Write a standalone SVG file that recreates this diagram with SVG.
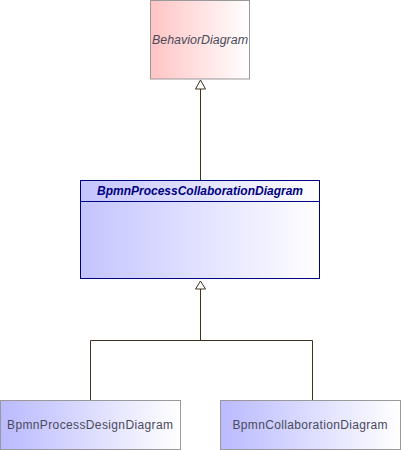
<svg xmlns="http://www.w3.org/2000/svg" width="401" height="450" viewBox="0 0 401 450">
<style>
.box{stroke:#999999;stroke-width:1}
.lbl{font-family:"Liberation Sans",Arial,sans-serif;font-size:12px;fill:#4a4a5a;text-anchor:middle}
.conn{stroke:#3f3221;stroke-width:1;fill:none}
.head{stroke:#3f3221;stroke-width:1;fill:#ffffff}
</style>
<defs>
<linearGradient id="gPink" x1="0" y1="0" x2="1" y2="0">
<stop offset="0" stop-color="#ffc4c4"/>
<stop offset="1" stop-color="#ffffff"/>
</linearGradient>
<linearGradient id="gBlue" x1="0" y1="0" x2="1" y2="0">
<stop offset="0" stop-color="#c4c4ff"/>
<stop offset="1" stop-color="#ffffff"/>
</linearGradient>
<linearGradient id="gBlue2" x1="0" y1="0" x2="1" y2="0">
<stop offset="0" stop-color="#babaff"/>
<stop offset="1" stop-color="#ffffff"/>
</linearGradient>
</defs>
<g id="connectors">
<path class="conn" d="M200.5 89 V180"/>
<polygon class="head" points="200.5,80 195.5,89 205.5,89"/>
<path class="conn" d="M90.5 400 V340.5 H312.5 V400 M200.5 340.5 V289"/>
<polygon class="head" points="200.5,281 195.5,289 205.5,289"/>
</g>
<g id="BehaviorDiagram">
<rect class="box" x="150.5" y="0.5" width="99" height="78.5" fill="url(#gPink)"/>
<text class="lbl" x="200" y="44" font-style="italic" textLength="96" lengthAdjust="spacingAndGlyphs">BehaviorDiagram</text>
</g>
<g id="BpmnProcessCollaborationDiagram">
<rect x="80.5" y="180.5" width="239" height="98" fill="url(#gBlue)" stroke="#000080" stroke-width="1"/>
<line x1="80.5" y1="201.5" x2="319.5" y2="201.5" stroke="#000080" stroke-width="1"/>
<text x="200" y="195" font-family="Liberation Sans,Arial,sans-serif" font-size="12" font-weight="bold" font-style="italic" fill="#000080" text-anchor="middle">BpmnProcessCollaborationDiagram</text>
</g>
<g id="BpmnProcessDesignDiagram">
<rect class="box" x="0.5" y="400.5" width="180" height="49" fill="url(#gBlue2)"/>
<text class="lbl" x="90" y="429" textLength="166">BpmnProcessDesignDiagram</text>
</g>
<g id="BpmnCollaborationDiagram">
<rect class="box" x="220.5" y="400.5" width="180" height="49" fill="url(#gBlue2)"/>
<text class="lbl" x="310" y="429" textLength="155">BpmnCollaborationDiagram</text>
</g>
</svg>
